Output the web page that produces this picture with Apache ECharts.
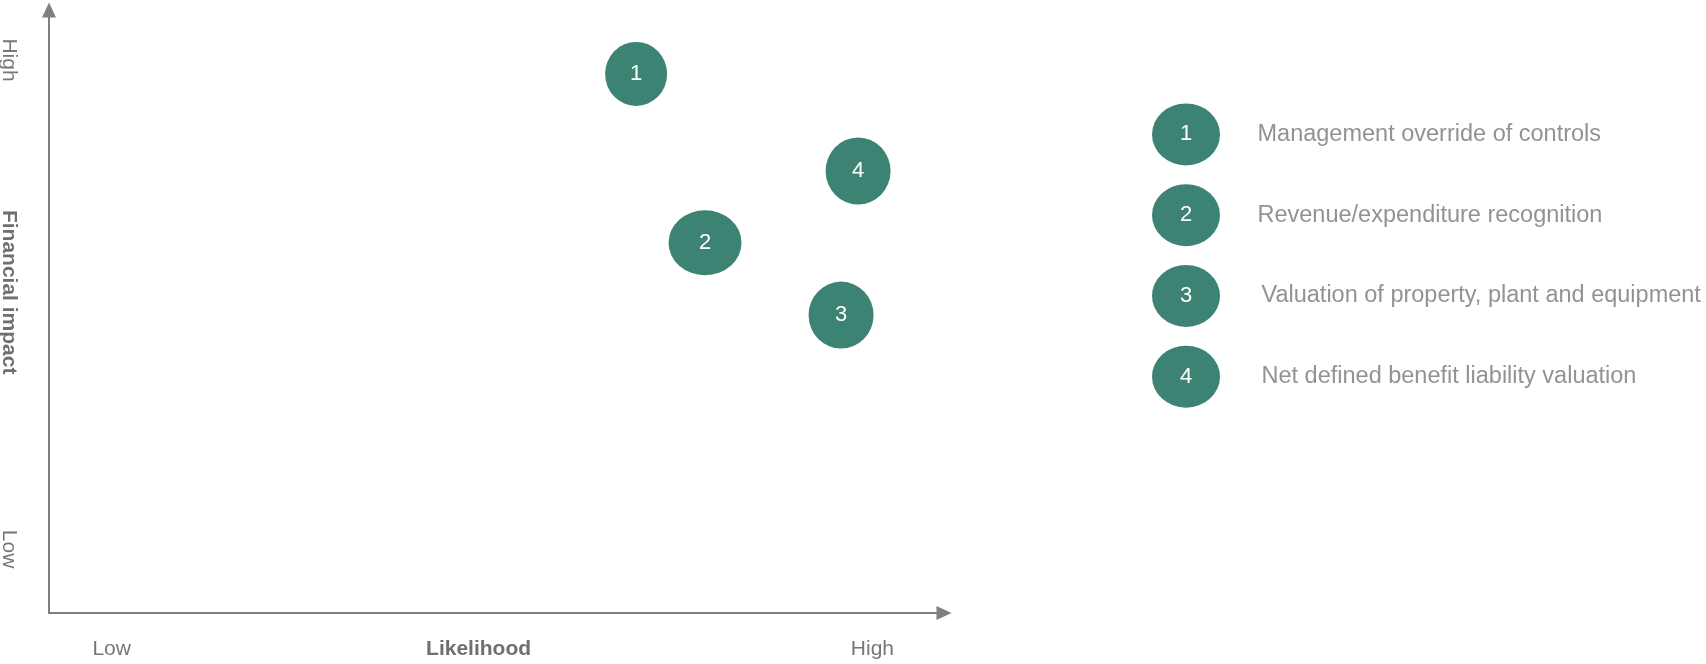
<!DOCTYPE html>
<html><head><meta charset="utf-8">
<script src="https://cdn.jsdelivr.net/npm/echarts@6/dist/echarts.min.js"></script>
<style>html,body{margin:0;padding:0;background:#fff}#c{width:1706px;height:664px}</style>
</head><body><div id="c"></div>
<script>
// ---- data ----
const riskIds = ['1', '2', '3', '4'];
const riskNames = [
  'Management override of controls',
  'Revenue/expenditure recognition',
  'Valuation of property, plant and equipment',
  'Net defined benefit liability valuation'
];
const likelihood = [65.6, 73.3, 88.5, 90.4];
const impact = [89.4, 61.4, 49.4, 73.3];
const xTickValues = [7, 48, 92];
const xTickLabels = ['Low', 'Likelihood', 'High'];
const yTickValues = [10.6, 53.2, 91.7];
const yTickLabels = ['Low', 'Financial impact', 'High'];

// ---- style ----
const TEAL = '#3c8374';
const GREY = '#7f7f7f';
const TXT = '#777777';
const FONT = '"Liberation Sans", Arial, sans-serif';
const bubbleSizes = [[62, 64], [73, 65], [65, 67], [65, 67]];
const legendBubbleSize = [68, 62];
const legendTextGap = [71, 71, 75, 75];

function tickFormatter(values, labels) {
  return function (v) {
    let best = 0;
    for (let i = 1; i < values.length; i++) {
      if (Math.abs(values[i] - v) < Math.abs(values[best] - v)) best = i;
    }
    return best === 1 ? '{b|' + labels[best] + '}' : labels[best];
  };
}

const axisLineStyle = {
  show: true,
  symbol: ['none', 'triangle'],
  symbolSize: [14, 15],
  lineStyle: { color: GREY, width: 2 }
};

const chart = echarts.init(document.getElementById('c'), null, { renderer: 'canvas' });
chart.setOption({
  animation: false,
  backgroundColor: '#ffffff',
  textStyle: { fontFamily: FONT },
  grid: [
    { left: 49, right: 762, top: 10, bottom: 51, outerBoundsMode: 'none', containLabel: false },
    { left: 1136, width: 100, top: 94, height: 323, outerBoundsMode: 'none', containLabel: false }
  ],
  xAxis: [
    {
      type: 'value', gridIndex: 0, min: 0, max: 100,
      splitLine: { show: false }, axisTick: { show: false },
      axisLine: axisLineStyle,
      axisLabel: {
        customValues: xTickValues,
        formatter: tickFormatter(xTickValues, xTickLabels),
        margin: 26, color: TXT, fontSize: 21, fontFamily: FONT,
        rich: { b: { fontWeight: 'bold', fontSize: 21, color: '#6f6f6f', fontFamily: FONT } }
      }
    },
    { type: 'value', gridIndex: 1, min: -1, max: 1, show: false }
  ],
  yAxis: [
    {
      type: 'value', gridIndex: 0, min: 0, max: 100,
      splitLine: { show: false }, axisTick: { show: false },
      axisLine: axisLineStyle,
      axisLabel: {
        customValues: yTickValues,
        formatter: tickFormatter(yTickValues, yTickLabels),
        rotate: -90,
        margin: 30, color: TXT, fontSize: 21, fontFamily: FONT,
        rich: { b: { fontWeight: 'bold', fontSize: 21, color: '#6f6f6f', fontFamily: FONT } }
      }
    },
    { type: 'value', gridIndex: 1, min: 0.5, max: 4.5, inverse: true, show: false }
  ],
  series: [
    {
      type: 'scatter', xAxisIndex: 0, yAxisIndex: 0, silent: true,
      data: riskIds.map((id, i) => ({
        value: [likelihood[i], impact[i]],
        name: id,
        symbolSize: bubbleSizes[i]
      })),
      itemStyle: { color: TEAL, opacity: 1 },
      label: { show: true, position: 'inside', formatter: '{b}', color: '#ffffff', fontSize: 22, fontFamily: FONT }
    },
    {
      type: 'scatter', xAxisIndex: 1, yAxisIndex: 1, silent: true,
      symbolSize: legendBubbleSize,
      data: riskIds.map((id, i) => ({ value: [0, i + 1], name: id })),
      itemStyle: { color: TEAL, opacity: 1 },
      label: { show: true, position: 'inside', formatter: '{b}', color: '#ffffff', fontSize: 22, fontFamily: FONT }
    },
    {
      type: 'scatter', xAxisIndex: 1, yAxisIndex: 1, silent: true,
      symbolSize: 1,
      data: riskNames.map((n, i) => ({
        value: [0, i + 1], name: n,
        label: { distance: legendTextGap[i] }
      })),
      itemStyle: { color: 'rgba(0,0,0,0)' },
      label: { show: true, position: 'right', formatter: '{b}', color: TXT, fontSize: 23.5, fontFamily: FONT }
    }
  ]
});
</script>
</body></html>
